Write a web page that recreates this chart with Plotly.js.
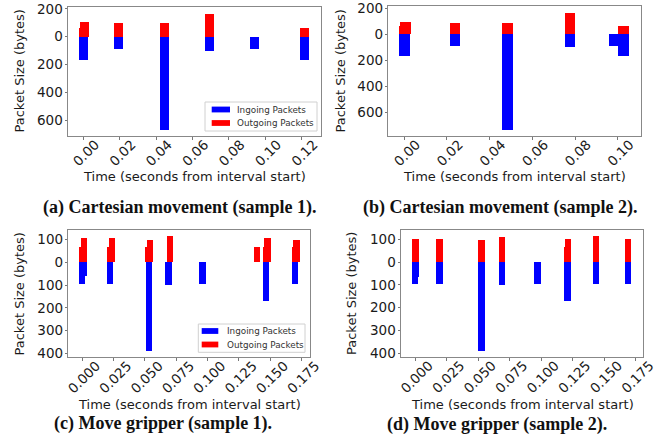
<!DOCTYPE html>
<html><head><meta charset="utf-8">
<script src="https://cdn.plot.ly/plotly-3.0.1.min.js"></script>
<style>html,body{margin:0;padding:0;background:#fff;}#chart{width:662px;height:446px;}</style>
</head><body><div id="chart"></div>
<script>
// Panel (a) Cartesian movement sample 1
const aInT = [0.0002, 0.0195, 0.0447, 0.0692, 0.0942, 0.1213];
const aInV = [168, 91, 670, 100, 91, 168];
const aOutT = [0.0001, 0.0008, 0.0195, 0.0447, 0.0692, 0.1213];
const aOutV = [60, 103, 96, 96, 163, 65];
// Panel (b) Cartesian movement sample 2
const bInT = [0.0002, 0.0238, 0.0485, 0.0777, 0.0986, 0.1028];
const bInV = [167, 90, 736, 100, 90, 167];
const bOutT = [0.0002, 0.0006, 0.0238, 0.0485, 0.0777, 0.1028];
const bOutV = [64, 97, 90, 90, 167, 64];
// Panel (c) Move gripper sample 1
const cInT = [-0.0001, 0.0012, 0.0222, 0.0531, 0.0688, 0.0959, 0.1464, 0.1698];
const cInV = [94, 61, 94, 390, 102, 94, 168, 94];
const cOutT = [-0.0001, 0.0012, 0.0222, 0.0235, 0.0528, 0.0541, 0.0698, 0.1393, 0.1464, 0.1478, 0.1698, 0.1709];
const cOutV = [67, 107, 67, 107, 67, 96, 114, 67, 67, 107, 67, 96];
// Panel (d) Move gripper sample 2
const dInT = [-0.0001, 0.0007, 0.0194, 0.0527, 0.0689, 0.0970, 0.1208, 0.1437, 0.1690];
const dInV = [94, 64, 94, 390, 102, 94, 171, 94, 94];
const dOutT = [-0.0001, 0.0004, 0.0194, 0.0527, 0.0689, 0.1205, 0.1213, 0.1437, 0.1690];
const dOutV = [67, 104, 104, 96, 111, 67, 104, 114, 104];

const xTicksAB = [0, 0.02, 0.04, 0.06, 0.08, 0.10, 0.12];
const xTextAB = ["0.00", "0.02", "0.04", "0.06", "0.08", "0.10", "0.12"];
const xTicksCD = [0, 0.025, 0.05, 0.075, 0.1, 0.125, 0.15, 0.175];
const xTextCD = ["0.000", "0.025", "0.050", "0.075", "0.100", "0.125", "0.150", "0.175"];
const yTicksAB = [-600, -400, -200, 0, 200];
const yTextAB = ["600", "400", "200", "0", "200"];
const yTicksCD = [-400, -300, -200, -100, 0, 100];
const yTextCD = ["400", "300", "200", "100", "0", "100"];

const captions = ["(a) Cartesian movement (sample 1).", "(b) Cartesian movement (sample 2).",
                  "(c) Move gripper (sample 1).", "(d) Move gripper (sample 2)."];
const legendNames = ["Ingoing Packets", "Outgoing Packets"];
const yTitle = "Packet Size (bytes)";
const xTitle = "Time (seconds from interval start)";

const W = 662, H = 446;
const px = x => x / W, py = y => 1 - y / H;
const BW = 0.005;
const BLUE = '#0000ff', RED = '#ff0000';

function pair(inT, inV, outT, outV, k) {
  const xa = k === 1 ? 'x' : 'x' + k, ya = k === 1 ? 'y' : 'y' + k;
  return [
    {type: 'bar', x: inT, y: inV.map(v => -v), width: BW, marker: {color: BLUE, line: {width: 0}},
     name: legendNames[0], xaxis: xa, yaxis: ya, showlegend: false},
    {type: 'bar', x: outT, y: outV, width: BW, marker: {color: RED, line: {width: 0}},
     name: legendNames[1], xaxis: xa, yaxis: ya, showlegend: false}
  ];
}
const data = [].concat(pair(aInT, aInV, aOutT, aOutV, 1), pair(bInT, bInV, bOutT, bOutV, 2),
                       pair(cInT, cInV, cOutT, cOutV, 3), pair(dInT, dInV, dOutT, dOutV, 4));

const tickFont = {family: 'DejaVu Sans', size: 13.5, color: '#1a1a1a'};
function xax(dom, range, tv, tt, anchor, shift) {
  return {domain: dom, range: range, anchor: anchor, tickmode: 'array', tickvals: tv, ticktext: tt,
          tickangle: -45, ticks: 'outside', ticklen: 2.5, tickcolor: '#777', tickwidth: 1,
          showline: true, mirror: true, linecolor: '#888', linewidth: 1, showgrid: false, zeroline: false,
          tickfont: tickFont, ticklabelshift: shift, ticklabelstandoff: -8, fixedrange: true};
}
function yax(dom, range, tv, tt, anchor) {
  return {domain: dom, range: range, anchor: anchor, tickmode: 'array', tickvals: tv, ticktext: tt,
          ticks: 'outside', ticklen: 2.5, tickcolor: '#777', tickwidth: 1,
          showline: true, mirror: true, linecolor: '#888', linewidth: 1, showgrid: false, zeroline: false,
          tickfont: tickFont, ticklabelstandoff: -1, fixedrange: true};
}

const annFont = {family: 'DejaVu Sans', size: 13, color: '#1a1a1a'};
const capFont = {family: 'Liberation Serif', size: 18, color: '#111'};
const annotations = [];
function titles(yx, ycy, xcx, xcy) {
  annotations.push({xref: 'paper', yref: 'paper', x: px(yx), y: py(ycy), text: yTitle, textangle: -90,
                    showarrow: false, xanchor: 'center', yanchor: 'middle', font: annFont});
  annotations.push({xref: 'paper', yref: 'paper', x: px(xcx), y: py(xcy), text: xTitle,
                    showarrow: false, xanchor: 'center', yanchor: 'middle', font: annFont});
}
titles(19, 71.5, 194.5, 177);
titles(339.5, 71, 514.7, 176.7);
titles(18.5, 294, 189, 404.7);
titles(351.5, 293.5, 522, 404.7);
const capPos = [[179, 207], [500, 207], [163, 423], [497, 424]];
captions.forEach((c, i) => annotations.push({xref: 'paper', yref: 'paper', x: px(capPos[i][0]), y: py(capPos[i][1]),
  text: '<b>' + c + '</b>', showarrow: false, xanchor: 'center', yanchor: 'middle', font: capFont}));

const shapes = [];
function legend(box, patchX, rowsY, textX) {
  shapes.push({type: 'rect', xref: 'paper', yref: 'paper', x0: px(box[0]), x1: px(box[2]), y0: py(box[1]), y1: py(box[3]),
               line: {color: '#d0d0d0', width: 1}, fillcolor: 'rgba(255,255,255,0.8)', layer: 'above'});
  [BLUE, RED].forEach((col, i) => {
    shapes.push({type: 'rect', xref: 'paper', yref: 'paper', x0: px(patchX[0]), x1: px(patchX[1]),
                 y0: py(rowsY[i] - 2.9), y1: py(rowsY[i] + 2.9), line: {width: 0}, fillcolor: col, layer: 'above'});
    annotations.push({xref: 'paper', yref: 'paper', x: px(textX), y: py(rowsY[i]), text: legendNames[i],
                      showarrow: false, xanchor: 'left', yanchor: 'middle',
                      font: {family: 'DejaVu Sans', size: 8.8, color: '#333'}});
  });
}
legend([205, 102, 317, 131], [211.7, 230], [109.5, 123], 235);
legend([198.3, 324, 305, 352.3], [201.7, 218.3], [331, 344.5], 224.5);

const layout = {
  width: W, height: H, margin: {l: 0, r: 0, t: 0, b: 0}, paper_bgcolor: '#fff', plot_bgcolor: '#fff',
  barmode: 'overlay', bargap: 0, showlegend: false,
  xaxis: xax([px(68), px(321)], [-0.0084, 0.1306], xTicksAB, xTextAB, 'y', 12),
  yaxis: yax([py(136), py(7)], [-714, 214], yTicksAB, yTextAB, 'x'),
  xaxis2: xax([px(388.3), px(641)], [-0.0075, 0.1109], xTicksAB.slice(0, 6), xTextAB.slice(0, 6), 'y2', 12),
  yaxis2: yax([py(136), py(6)], [-782, 218], yTicksAB, yTextAB, 'x2'),
  xaxis3: xax([px(68.3), px(310)], [-0.0112, 0.1817], xTicksCD, xTextCD, 'y3', 14),
  yaxis3: yax([py(357.3), py(230.3)], [-417, 140], yTicksCD, yTextCD, 'x3'),
  xaxis4: xax([px(401), px(642.7)], [-0.0111, 0.1805], xTicksCD, xTextCD, 'y4', 14),
  yaxis4: yax([py(357), py(229.7)], [-417, 143], yTicksCD, yTextCD, 'x4'),
  annotations: annotations, shapes: shapes
};
Plotly.newPlot('chart', data, layout, {staticPlot: true, displayModeBar: false});
</script></body></html>
